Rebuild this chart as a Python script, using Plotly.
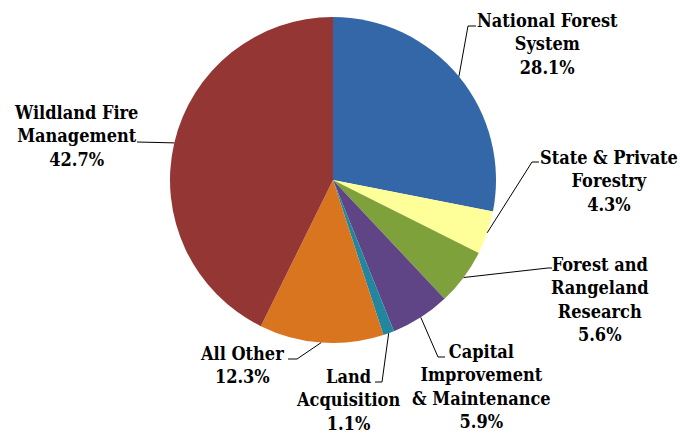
import numpy as np
import plotly.graph_objs as go

# data
labels = ["National Forest System", "State & Private Forestry", "Forest and Rangeland Research",
          "Capital Improvement & Maintenance", "Land Acquisition", "All Other",
          "Wildland Fire Management"]
label_text = ["National Forest<br>System", "State & Private<br>Forestry", "Forest and<br>Rangeland<br>Research",
              "Capital<br>Improvement<br>& Maintenance", "Land<br>Acquisition", "All Other",
              "Wildland Fire<br>Management"]
shares = [28.1, 4.3, 5.6, 5.9, 1.1, 12.3, 42.7]
colors = ["#3467A8", "#FFFF99", "#7EA13B", "#5F4586", "#23869F", "#D9741F", "#943634"]

W, H = 680, 433
cx, cy, r = 333, 180, 163

# label block centres and leader elbows (pixels)
text_pos = [(547, 44), (609, 181), (600, 299), (481, 386), (348, 400), (242, 365), (76, 136)]
elbows = [[(468, 26), (476, 26)], [(532, 162), (539, 162)], [(548, 268), (552, 268)],
          [(438, 357), (445, 357)], [(382, 382), (375, 382)], [(297, 359), (288, 359)],
          [(137, 142), (137, 142)]]

fig = go.Figure()

fig.add_trace(go.Pie(
    labels=labels,
    values=shares,
    sort=False,
    direction='clockwise',
    rotation=0,
    marker=dict(colors=colors, line=dict(width=0)),
    textinfo='none',
    hoverinfo='label+percent',
    showlegend=False,
    domain=dict(x=[(cx - r) / W, (cx + r) / W], y=[1 - (cy + r) / H, 1 - (cy - r) / H])
))

# leader lines start at the middle of each slice on the rim
cum = np.cumsum([0] + shares)
total = cum[-1]
shapes = []
annotations = []
for i in range(len(shares)):
    mid = (cum[i] + cum[i + 1]) / 2 / total * 2 * np.pi
    ax = cx + r * np.sin(mid)
    ay = cy - r * np.cos(mid)
    (ex, ey), (tx, ty) = elbows[i]
    shapes.append(dict(
        type='path', xref='x', yref='y',
        path=f"M {ax:.1f},{ay:.1f} L {ex},{ey} L {tx},{ty}",
        line=dict(color="black", width=1)
    ))
    annotations.append(dict(
        x=text_pos[i][0], y=text_pos[i][1], xref='x', yref='y',
        text=f"<b>{label_text[i]}<br>{shares[i]:.1f}%</b>",
        showarrow=False, align='center',
        font=dict(family="DejaVu Serif Condensed", size=18, color="black")
    ))

fig.update_layout(
    width=W, height=H,
    margin=dict(l=0, r=0, t=0, b=0),
    paper_bgcolor="white",
    plot_bgcolor="rgba(0,0,0,0)",
    xaxis=dict(range=[0, W], visible=False, fixedrange=True),
    yaxis=dict(range=[H, 0], visible=False, fixedrange=True),
    shapes=shapes,
    annotations=annotations
)

# drop the default page margin so the figure sits at the window corner
fig.write_html("out.html", config=dict(displayModeBar=False),
               post_script="document.body.style.margin='0';")
